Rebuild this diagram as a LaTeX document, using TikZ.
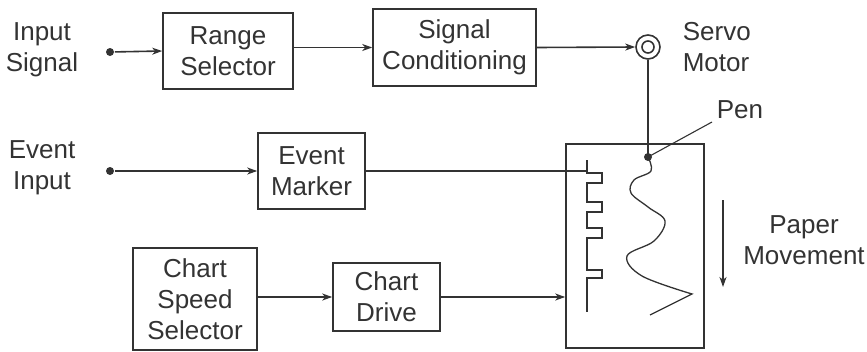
\documentclass[tikz,border=0pt]{standalone}
\usepackage{fontspec}
\setmainfont{Liberation Sans}
\usepackage{xcolor}
\usetikzlibrary{arrows,arrows.meta}
\definecolor{ink}{HTML}{333333}

\begin{document}
\begin{tikzpicture}[x=1pt, y=-1pt, line width=1.6pt, color=ink, >={Stealth[length=10pt,width=7pt,inset=3pt]},
	every node/.style={font=\fontsize{26}{31}\selectfont, align=center, inner sep=0pt},
	blockbox/.style 2 args={draw, minimum width=#1, minimum height=#2},
	dot/.style={circle, fill, minimum size=8pt}]
	\useasboundingbox (0,0) rectangle (867,351);
	% blocks
	\node[blockbox={130pt}{76pt}] (rangesel) at (228,51) {Range\\Selector};
	\node[blockbox={163pt}{77pt}] (sigcond) at (454.5,47.5) {Signal\\Conditioning};
	\node[blockbox={107pt}{76pt}] (eventmark) at (311.5,171) {Event\\Marker};
	\node[blockbox={124pt}{102pt}] (chartspeed) at (195,299) {Chart\\Speed\\Selector};
	\node[blockbox={107pt}{68pt}] (chartdrive) at (386.5,297) {Chart\\Drive};
	\node[blockbox={138pt}{204pt}] (recorder) at (635,246) {};
	% labels
	\node (insig) at (42,50) {Input\\Signal};
	\node (evin) at (42,168) {Event\\Input};
	\node[anchor=west, align=left] (servolbl) at (682,47) {Servo\\Motor};
	\node (penlbl) at (740,110) {Pen};
	\node (paperlbl) at (804,240) {Paper\\Movement};
	% inputs and servo
	\node[dot] (insrc) at (110,52) {};
	\node[dot] (evsrc) at (110,171) {};
	\node[circle, draw, minimum size=24pt] (servo) at (648,47) {};
	\draw (servo.center) circle (6pt);
	\node[dot] (pen) at (648,157) {};
	\coordinate (penend) at (712,122);
	\coordinate (mark) at (587,171);
	\draw[->] (insrc) -- (rangesel.west);
	\draw[->] (rangesel.east |- sigcond.west) -- (sigcond.west);
	\draw[->] (sigcond.east) -- (servo.west);
	\draw (servo.south) -- (pen.center);
	\draw[line width=1.1pt] (pen.center) -- (penend);
	\draw[->] (evsrc) -- (eventmark.west);
	\draw (eventmark.east) -- (mark);
	\draw[->] (chartspeed.east |- chartdrive.west) -- (chartdrive.west);
	\draw[->] (chartdrive.east) -- (recorder.west |- chartdrive.east);
	% event marks on the chart
	\draw (587,160) -- (587,173) -- (602,173) -- (602,183) -- (587,183)
		-- (587,202) -- (602,202) -- (602,212) -- (587,212)
		-- (587,228) -- (602,228) -- (602,238) -- (587,238)
		-- (587,270) -- (602,270) -- (602,278) -- (587,278) -- (587,312);
	% pen trace
	\draw[line width=1.3pt] plot[smooth, tension=0.6] coordinates {(648,157) (651,171) (634,180) (631,193) (648,207) (665,221) (654,241) (627,256) (642,276) (692,294)} -- (650,315);
	% paper movement
	\draw[->] (723,200) -- (723,287);
\end{tikzpicture}
\end{document}
